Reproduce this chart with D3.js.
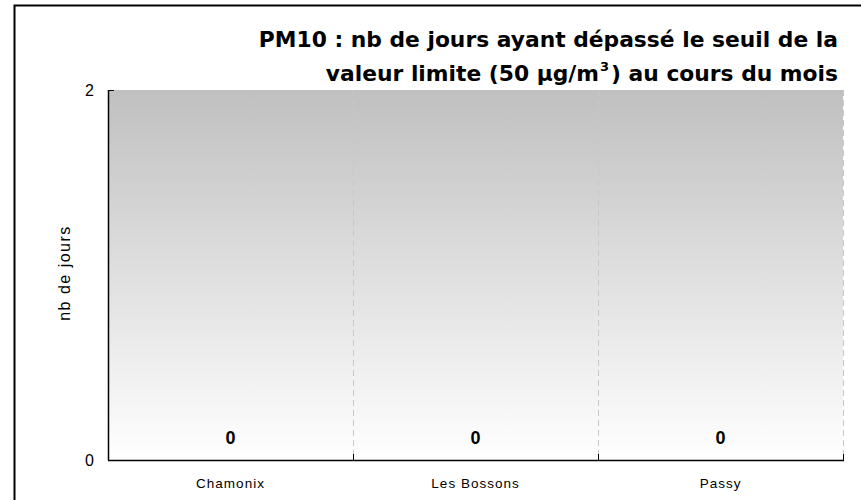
<!DOCTYPE html>
<html><head><meta charset="utf-8">
<script src="https://cdn.jsdelivr.net/npm/d3@7"></script>
<style>body{margin:0;background:#fff}svg{display:block}</style>
</head><body>
<svg id="c" width="861" height="500"></svg>
<script>
const categories = ["Chamonix", "Les Bossons", "Passy"];
const values = [0, 0, 0];
const yTicks = [0, 2];
const titleLines = ["PM10 : nb de jours ayant dépassé le seuil de la", "valeur limite (50 µg/m", ") au cours du mois"];
const yTitle = "nb de jours";

const ARIAL = "Liberation Sans, Arial, sans-serif";
const TITLEF = "DejaVu Sans, Verdana, sans-serif";
const svg = d3.select("#c");
const m = {l:108, r:843, t:90, b:460};

// frame
svg.append("path").attr("d","M14.5,500 L14.5,5.5 L861,5.5").attr("fill","none").attr("stroke","#000").attr("stroke-width",2);

const defs = svg.append("defs");
const g = defs.append("linearGradient").attr("id","bg").attr("x1",0).attr("y1",0).attr("x2",0).attr("y2",1);
g.append("stop").attr("offset","0%").attr("stop-color","#c0c0c0");
g.append("stop").attr("offset","100%").attr("stop-color","#ffffff");

const x = d3.scaleBand().domain(categories).range([m.l, m.r]).padding(0);
const y = d3.scaleLinear().domain([0, 2]).range([m.b, m.t]);

svg.append("rect").attr("x",m.l).attr("y",m.t).attr("width",m.r-m.l).attr("height",m.b-m.t).attr("fill","url(#bg)");

// dashed separators
categories.forEach((c,i)=>{
  const xx = x(c)+x.bandwidth();
  svg.append("line").attr("x1",xx+0.5).attr("x2",xx+0.5).attr("y1",m.t).attr("y2",m.b)
    .attr("stroke","#c8c8c8").attr("stroke-dasharray","6,4").attr("stroke-width",1);
});

// bars (zero height)
svg.selectAll("rect.bar").data(values).join("rect").attr("class","bar")
  .attr("x",(d,i)=>x(categories[i])+x.bandwidth()*0.15).attr("width",x.bandwidth()*0.7)
  .attr("y",d=>y(d)).attr("height",d=>y(0)-y(d)).attr("fill","#7f7fbf");

// value labels
svg.selectAll("text.val").data(values).join("text").attr("class","val")
  .attr("x",(d,i)=>x(categories[i])+x.bandwidth()/2).attr("y",d=>y(d)-16)
  .attr("text-anchor","middle").attr("font-family",ARIAL).attr("font-weight","bold").attr("font-size",18).text(d=>d);

// axes
const xAxis = d3.axisBottom(x).tickSize(0).tickPadding(0);
const xg = svg.append("g").attr("transform",`translate(0,${m.b})`).call(xAxis);
xg.select(".domain").remove();
xg.selectAll("text").attr("dy",null).attr("y",28).style("font-size","13.5px").attr("fill","#000")
  .style("letter-spacing","1px").style("font-family",ARIAL);
svg.append("line").attr("x1",m.l).attr("x2",m.r+1).attr("y1",m.b+0.5).attr("y2",m.b+0.5).attr("stroke","#000").attr("stroke-width",1.5);
categories.forEach(c=>{
  const xx = x(c)+x.bandwidth();
  svg.append("line").attr("x1",xx+0.5).attr("x2",xx+0.5).attr("y1",m.b-6).attr("y2",m.b).attr("stroke","#000");
});

const yAxis = d3.axisLeft(y).tickValues(yTicks).tickFormat(d3.format("d")).tickSize(0).tickPadding(14);
const yg = svg.append("g").attr("transform",`translate(${m.l},0)`).call(yAxis);
yg.select(".domain").remove();
yg.selectAll("text").style("font-size","16px").attr("fill","#000").style("font-family",ARIAL);
svg.append("line").attr("x1",m.l+0.5).attr("x2",m.l+0.5).attr("y1",m.t).attr("y2",m.b).attr("stroke","#000").attr("stroke-width",1.5);
svg.append("line").attr("x1",m.l).attr("x2",m.l+6).attr("y1",m.t+0.5).attr("y2",m.t+0.5).attr("stroke","#000");

svg.append("text").attr("transform",`translate(70,${(m.t+m.b)/2 - 2}) rotate(-90)`).attr("text-anchor","middle")
  .style("font-size","16px").style("letter-spacing","1.5px").style("font-family",ARIAL).text(yTitle);

// title
const TS = 21.8;
const t1 = svg.append("text").attr("text-anchor","end").attr("font-weight","bold").attr("font-size",TS).attr("font-family",TITLEF)
  .attr("x",838).attr("y",47).text(titleLines[0]);
const t2 = svg.append("text").attr("text-anchor","end").attr("font-weight","bold").attr("font-size",TS).attr("font-family",TITLEF).attr("x",838).attr("y",81);
t2.append("tspan").text(titleLines[1]);
t2.append("tspan").attr("font-size",13).attr("dy",-10).attr("dx",1).text("3");
t2.append("tspan").attr("dy",10).attr("dx",2).text(titleLines[2]);
</script>
</body></html>
